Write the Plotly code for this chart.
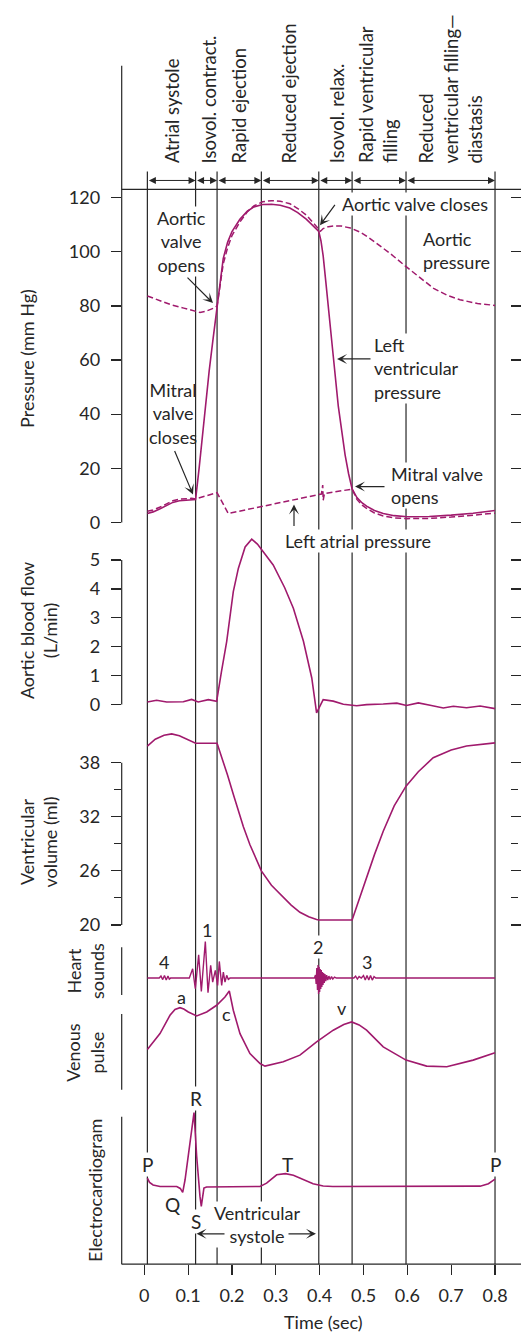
import plotly.graph_objects as go

W, H = 521, 1339
MAG = "#a01a6d"
INK = "#262626"
FONT = "Lato, 'Open Sans', sans-serif"

# ---------------- data ----------------
time_ticks = [0, 0.1, 0.2, 0.3, 0.4, 0.5, 0.6, 0.7, 0.8]
time_tick_text = ["0", "0.1", "0.2", "0.3", "0.4", "0.5", "0.6", "0.7", "0.8"]

phase_bounds = [0.007, 0.117, 0.166, 0.267, 0.398, 0.474, 0.597, 0.8]
phase_labels = ["Atrial systole", "Isovol. contract.", "Rapid ejection", "Reduced ejection",
                "Isovol. relax.", "Rapid ventricular<br>filling",
                "Reduced<br>ventricular filling\u2014<br>diastasis"]

pressure_ticks = [0, 20, 40, 60, 80, 100, 120]
pressure_minor_ticks = [10, 30, 50, 70, 90, 110]
flow_ticks = [0, 1, 2, 3, 4, 5]
volume_ticks = [20, 26, 32, 38]
volume_minor_ticks = [23, 29, 35]

# Left ventricular pressure (mm Hg)
lv_t = [0.007, 0.02, 0.035, 0.05, 0.065, 0.08, 0.095, 0.108, 0.117, 0.125, 0.133, 0.141, 0.148, 0.157,
        0.166, 0.173, 0.18, 0.19, 0.2, 0.218, 0.235, 0.25, 0.27, 0.29, 0.31, 0.332, 0.35, 0.37, 0.385,
        0.398, 0.403, 0.408, 0.414, 0.42, 0.431, 0.4425, 0.45, 0.458, 0.466, 0.474, 0.485, 0.497, 0.507,
        0.525, 0.545, 0.57, 0.6, 0.65, 0.7, 0.75, 0.8]
lv_p = [3.3, 3.9, 5.0, 6.3, 7.4, 8.0, 8.3, 8.3, 8.5, 20, 33, 45, 56, 68,
        80, 90, 97.5, 103.5, 107.5, 112, 115, 116.6, 117.5, 117.6, 117.2, 116.2, 114.5, 112, 109.5,
        107.5, 104, 98.5, 89, 80, 61.5, 43, 33.5, 25, 18, 12.4, 9.2, 7.2, 6.0,
        4.4, 3.3, 2.5, 2.1, 2.2, 2.7, 3.4, 4.4]

# Aortic pressure (mm Hg)
ao_t = [0.007, 0.03, 0.06, 0.09, 0.11, 0.127, 0.14, 0.15, 0.158, 0.166, 0.173, 0.18, 0.19, 0.2, 0.218,
        0.235, 0.25, 0.27, 0.29, 0.31, 0.332, 0.35, 0.37, 0.385, 0.398, 0.402, 0.408, 0.42, 0.435, 0.45,
        0.47, 0.492, 0.51, 0.53, 0.56, 0.595, 0.63, 0.66, 0.69, 0.72, 0.76, 0.8]
ao_p = [83.7, 82.2, 80.5, 79.2, 78.2, 77.6, 78.0, 78.6, 79.2, 80, 88, 95.5, 101.5, 106, 111,
        114.8, 117, 118.5, 118.9, 118.7, 117.8, 116, 113.5, 110.8, 108.2, 107.6, 108.6, 109.3, 109.6, 109.5,
        108.8, 107.3, 105.5, 103.2, 99.5, 94.8, 90.2, 86.5, 84.0, 82.3, 80.9, 80.2]

# Left atrial pressure (mm Hg)
la_t = [0.007, 0.02, 0.035, 0.05, 0.065, 0.08, 0.095, 0.108, 0.117, 0.166, 0.1915, 0.25, 0.30, 0.35,
        0.404, 0.407, 0.408, 0.411, 0.44, 0.474, 0.485, 0.497, 0.507, 0.525, 0.545, 0.57, 0.6, 0.65,
        0.7, 0.75, 0.8]
la_p = [4.1, 4.6, 5.6, 6.9, 8.0, 8.6, 8.9, 8.9, 8.7, 11.0, 3.3, 5.3, 7.0, 8.7,
        10.5, 13.8, 8.2, 10.7, 11.4, 12.3, 8.5, 6.4, 5.2, 3.5, 2.4, 1.7, 1.4, 1.5,
        2.0, 2.6, 3.4]

# Aortic blood flow (L/min)
flow_t = [0.007, 0.028, 0.051, 0.089, 0.108, 0.123, 0.146, 0.165, 0.176, 0.188, 0.203, 0.2145, 0.23,
          0.245, 0.258, 0.2714, 0.294, 0.32, 0.34, 0.363, 0.382, 0.393, 0.408, 0.431, 0.454, 0.4845,
          0.507, 0.545, 0.576, 0.598, 0.625, 0.652, 0.682, 0.705, 0.735, 0.766, 0.8]
flow_v = [0.09, 0.15, 0.09, 0.10, 0.18, 0.09, 0.17, 0.11, 1.14, 2.19, 3.91, 4.71, 5.45,
          5.72, 5.55, 5.29, 4.83, 4.05, 3.33, 2.19, 0.92, -0.29, 0.17, 0.12, 0.01, -0.04,
          0.0, 0.02, 0.05, -0.03, 0.06, -0.02, -0.12, -0.06, -0.11, -0.05, -0.14]

# Ventricular volume (ml)
vol_t = [0.007, 0.025, 0.045, 0.0625, 0.08, 0.1, 0.112, 0.117, 0.166, 0.172, 0.18, 0.19, 0.203, 0.226,
         0.241, 0.267, 0.29, 0.317, 0.335, 0.355, 0.375, 0.393, 0.398, 0.474, 0.49, 0.507, 0.525, 0.545,
         0.57, 0.597, 0.625, 0.659, 0.7, 0.735, 0.77, 0.8]
vol_v = [39.85, 40.6, 41.05, 41.2, 41.0, 40.55, 40.25, 40.15, 40.15, 39.3, 38.1, 36.6, 34.5, 30.9,
         28.9, 26.0, 24.4, 23.06, 22.2, 21.4, 20.9, 20.6, 20.55, 20.55, 22.9, 25.3, 27.8, 30.4,
         33.2, 35.4, 37.0, 38.55, 39.4, 39.85, 40.05, 40.2]

# Heart sounds (relative amplitude)
sound_t = [0.007, 0.034, 0.038, 0.042, 0.046, 0.050, 0.054, 0.057, 0.060,
           0.1027, 0.1103, 0.1164, 0.1240, 0.1301, 0.1392, 0.1453, 0.1514, 0.1560, 0.1620, 0.1673,
           0.1711, 0.1765, 0.1803, 0.1841, 0.1879, 0.1917, 0.1955,
           0.3880, 0.3905, 0.3920, 0.3935, 0.3950, 0.3963, 0.3975, 0.3988, 0.4000, 0.4012,
           0.4025, 0.4037, 0.4050, 0.4063, 0.4076, 0.4090, 0.4105, 0.4120, 0.4140, 0.4160,
           0.4185, 0.4210, 0.4240, 0.4270, 0.4300, 0.4340, 0.4380,
           0.478, 0.482, 0.486, 0.490, 0.495, 0.500, 0.504, 0.508, 0.512, 0.516, 0.520, 0.524, 0.528,
           0.8]
sound_v = [0, 0, 2, -1.5, 2.5, -2, 2, -1, 0,
           0, 9.3, -10.7, 23.3, -13.3, 36.7, -14.7, 12.7, -4, 7.7, -7.3,
           16.7, -7.3, 6, -4, 2.7, -1.3, 0,
           0, 3, -6, 10, -12, 13, -16, 11, -14, 9,
           -11, 8, -9, 6, -7, 5, -5, 4, -3, 3,
           -2, 2, -1.5, 1.5, -1, 1, 0,
           0, 2, -1, 1.5, 0, 2.5, -2, 2.5, -2, 2.5, -2, 1.5, 0,
           0]

# Venous pulse (relative)
venous_t = [0.007, 0.02, 0.0358, 0.0586, 0.07, 0.0814, 0.09, 0.1004, 0.1195, 0.1423, 0.165, 0.184,
            0.1939, 0.203, 0.2183, 0.241, 0.264, 0.2753, 0.295, 0.317, 0.355, 0.393, 0.431, 0.455,
            0.473, 0.49, 0.507, 0.545, 0.597, 0.644, 0.69, 0.75, 0.8]
venous_v = [47.3, 55, 63.3, 81.7, 87.5, 89.3, 88, 85, 81, 85, 91.7, 100,
            106, 86.7, 63.3, 43.3, 33.3, 30.7, 32.5, 35, 41.7, 55, 66.7, 72.5,
            75, 72, 66.7, 50, 36.7, 30.7, 30, 36.7, 44]

# Electrocardiogram (relative)
ecg_t = [0.007, 0.012, 0.02, 0.036, 0.074, 0.082, 0.0876, 0.093, 0.1134, 0.1195, 0.127, 0.130, 0.136,
         0.142, 0.264, 0.279, 0.302, 0.322, 0.34, 0.355, 0.385, 0.408, 0.43, 0.766, 0.785, 0.8]
ecg_v = [18.3, 14, 11.5, 10, 10, 8, 4, 16.7, 84, 40, 0, -10, 8.3,
         9.5, 10, 13.3, 21.7, 22.8, 21.2, 18.3, 12.7, 10.5, 10, 10.3, 12.7, 17.3]

# ---------------- geometry helpers (pixel layout) ----------------
def px(x):
    return x / W


def py(y):
    return 1 - y / H


X_LEFT, X_RIGHT = 121.7, 510.0
T0_PX, T_SCALE = 144.3, 438.4
x_range = [(X_LEFT - T0_PX) / T_SCALE, (X_RIGHT - T0_PX) / T_SCALE]


def yaxis(top, bottom, base, scale, v0=0.0, **kw):
    d = dict(domain=[py(bottom), py(top)],
             range=[v0 + (base - bottom) / scale, v0 + (base - top) / scale],
             anchor="x", showgrid=False, zeroline=False, showline=False, fixedrange=True)
    d.update(kw)
    return d


def ticked(vals, minor=None, mirror="ticks"):
    d = dict(ticks="outside", ticklen=10, tickwidth=1.2, tickcolor=INK, mirror=mirror,
             tickmode="array", tickvals=vals, ticktext=[str(v) for v in vals],
             tickfont=dict(family=FONT, size=18, color=INK), ticklabelstandoff=7)
    if minor:
        d["minor"] = dict(tickmode="array", tickvals=minor, ticks="outside", ticklen=7,
                          tickwidth=1.2, tickcolor=INK)
    return d


plain = dict(ticks="", showticklabels=False)
# minor pressure ticks only on the left side
pressure_minor_axis = dict(ticks="outside", ticklen=7, tickwidth=1.2, tickcolor=INK,
                           tickmode="array", tickvals=pressure_minor_ticks,
                           showticklabels=False, overlaying="y", side="left")

fig = go.Figure()
line = dict(color=MAG, width=1.6)
dash = dict(color=MAG, width=1.5, dash="6px,3px")
fig.add_trace(go.Scatter(x=ao_t, y=ao_p, mode="lines", line=dash, yaxis="y"))
fig.add_trace(go.Scatter(x=la_t, y=la_p, mode="lines", line=dash, yaxis="y"))
fig.add_trace(go.Scatter(x=lv_t, y=lv_p, mode="lines", line=line, yaxis="y"))
fig.add_trace(go.Scatter(x=flow_t, y=flow_v, mode="lines", line=line, yaxis="y2"))
fig.add_trace(go.Scatter(x=vol_t, y=vol_v, mode="lines", line=line, yaxis="y3"))
fig.add_trace(go.Scatter(x=sound_t, y=sound_v, mode="lines", line=dict(color=MAG, width=1.4), yaxis="y4"))
fig.add_trace(go.Scatter(x=venous_t, y=venous_v, mode="lines", line=line, yaxis="y5"))
fig.add_trace(go.Scatter(x=ecg_t, y=ecg_v, mode="lines", line=line, yaxis="y6"))
fig.update_traces(hoverinfo="skip", showlegend=False)

# ---------------- shapes ----------------
shapes = []
LW = 1.2
for b in phase_bounds:
    shapes.append(dict(type="line", xref="x", yref="paper", x0=b, x1=b, y0=py(1268), y1=py(172),
                       line=dict(color=INK, width=LW), layer="below"))
for (y0, y1) in [(66, 524), (950, 998), (1017, 1093), (1120, 1268)]:
    shapes.append(dict(type="line", xref="paper", yref="paper", x0=px(X_LEFT), x1=px(X_LEFT),
                       y0=py(y0), y1=py(y1), line=dict(color=INK, width=LW)))
shapes.append(dict(type="line", xref="paper", yref="y2", x0=px(X_LEFT), x1=px(X_LEFT),
                   y0=flow_ticks[0], y1=flow_ticks[-1], line=dict(color=INK, width=LW)))
shapes.append(dict(type="line", xref="paper", yref="y3", x0=px(X_LEFT), x1=px(X_LEFT),
                   y0=volume_ticks[0], y1=volume_ticks[-1], line=dict(color=INK, width=LW)))
for yy in (190, 1268):
    shapes.append(dict(type="line", xref="paper", yref="paper", x0=px(X_LEFT), x1=1,
                       y0=py(yy), y1=py(yy), line=dict(color=INK, width=LW)))

# ---------------- annotations ----------------
ann = []


def text(t, x, y, size=18, xanchor="center", align="center", angle=0, bg=None, yanchor="middle"):
    d = dict(text=t, x=px(x), y=py(y), xref="paper", yref="paper", showarrow=False,
             xanchor=xanchor, yanchor=yanchor, align=align, textangle=angle,
             font=dict(family=FONT, size=size, color=INK), borderpad=0)
    if bg:
        d["bgcolor"] = bg
    ann.append(d)


def arrow(head, tail, size=1.4, width=1.2, style=3):
    ann.append(dict(text="", x=px(head[0]), y=py(head[1]), xref="paper", yref="paper",
                    ax=tail[0] - head[0], ay=tail[1] - head[1], axref="pixel", ayref="pixel",
                    showarrow=True, arrowhead=style, arrowsize=size, arrowwidth=width,
                    arrowcolor=INK, standoff=0))


# phase labels and double arrows
phase_label_x = [172, 209, 239, 289, 336.7, 378, 450.5]
for lab, xx in zip(phase_labels, phase_label_x):
    text(lab, xx, 165, size=18.5, angle=-90, yanchor="bottom", align="left")
for a, b in zip(phase_bounds[:-1], phase_bounds[1:]):
    ann.append(dict(text="", x=b, y=py(181), xref="x", yref="paper", ax=a, axref="x",
                    ay=0, ayref="pixel", showarrow=True, arrowside="end+start",
                    arrowhead=2, startarrowhead=2, arrowsize=1.4, startarrowsize=1.4,
                    arrowwidth=1, arrowcolor=INK, standoff=0, startstandoff=0))

# axis titles
text("Pressure (mm Hg)", 27, 360, angle=-90)
text("Aortic blood flow<br>(L/min)", 38, 633, angle=-90)
text("Ventricular<br>volume (ml)", 38, 845, angle=-90)
text("Heart<br>sounds", 85, 974, angle=-90)
text("Venous<br>pulse", 85, 1056, angle=-90)
text("Electrocardiogram", 95.5, 1194, angle=-90)
text("Time (sec)", 323.3, 1326)

# pressure panel annotations
text("Aortic<br>valve<br>opens", 181.7, 242.5, bg="white")
arrow((213, 304), (186, 277))
text("Aortic valve closes", 415, 205, bg="white")
arrow((320, 226), (336, 204))
text("Aortic<br>pressure", 421.7, 251, xanchor="left", align="left")
text("Left<br>ventricular<br>pressure", 373.3, 369.4, xanchor="left", align="left", bg="white")
arrow((337, 360), (372, 360))
text("Mitral<br>valve<br>closes", 173.3, 415)
arrow((193, 496), (174, 451))
text("Mitral valve<br>opens", 390, 486.7, xanchor="left", align="left", bg="white")
arrow((355, 488), (386, 488))
text("Left atrial pressure", 358.3, 542.3, bg="white")
arrow((294, 506), (294, 529))

# heart sounds / venous pulse labels
text("4", 164, 965)
text("1", 206.7, 933)
text("2", 318.3, 950, bg="white")
text("3", 366.7, 965)
text("a", 181.7, 1000)
text("c", 226.7, 1017)
text("v", 341.7, 1011)

# ECG labels
text("P", 147.3, 1167.5, size=19, bg="white")
text("R", 195.7, 1101.7, size=19, bg="white")
text("Q", 172.3, 1208, size=19)
text("S", 195.7, 1225, size=19, bg="white")
text("T", 287.3, 1167.5, size=19)
text("P", 495, 1167.5, size=19, bg="white")
text("Ventricular<br>systole", 256.5, 1228.5, bg="white")
arrow((196.5, 1237.5), (226, 1237.5))
arrow((316, 1237.5), (287, 1237.5))

fig.update_layout(
    width=W, height=H, autosize=False,
    margin=dict(l=0, r=0, t=0, b=0, pad=0),
    paper_bgcolor="white", plot_bgcolor="rgba(0,0,0,0)",
    font=dict(family=FONT, size=18, color=INK),
    showlegend=False,
    xaxis=dict(domain=[px(X_LEFT), px(X_RIGHT)], range=x_range, anchor="free", position=py(1268),
               showgrid=False, zeroline=False, showline=False, ticks="outside", ticklen=10,
               tickwidth=1.2, tickcolor=INK, tickmode="array", tickvals=time_ticks,
               ticktext=time_tick_text, tickfont=dict(family=FONT, size=18, color=INK),
               ticklabelstandoff=5, fixedrange=True),
    yaxis=yaxis(58, 530, 524, 2.7142, **ticked(pressure_ticks)),
    yaxis7=yaxis(58, 530, 524, 2.7142, **pressure_minor_axis),
    yaxis2=yaxis(530, 728, 706.7, 29.0, **ticked(flow_ticks)),
    yaxis3=yaxis(728, 936, 927.7, 9.04, 20.0, **ticked(volume_ticks, volume_minor_ticks)),
    yaxis4=yaxis(936, 1004, 981, 1.0, **plain),
    yaxis5=yaxis(985, 1085, 1100, 1.0, **plain),
    yaxis6=yaxis(1100, 1268, 1200, 1.0, **plain),
    shapes=shapes,
    annotations=ann,
)

fig.write_html("out.html",
               config={"displayModeBar": False, "staticPlot": True},
               post_script="document.body.style.margin='0';document.body.style.padding='0';"
                           "document.body.style.overflow='hidden';")
